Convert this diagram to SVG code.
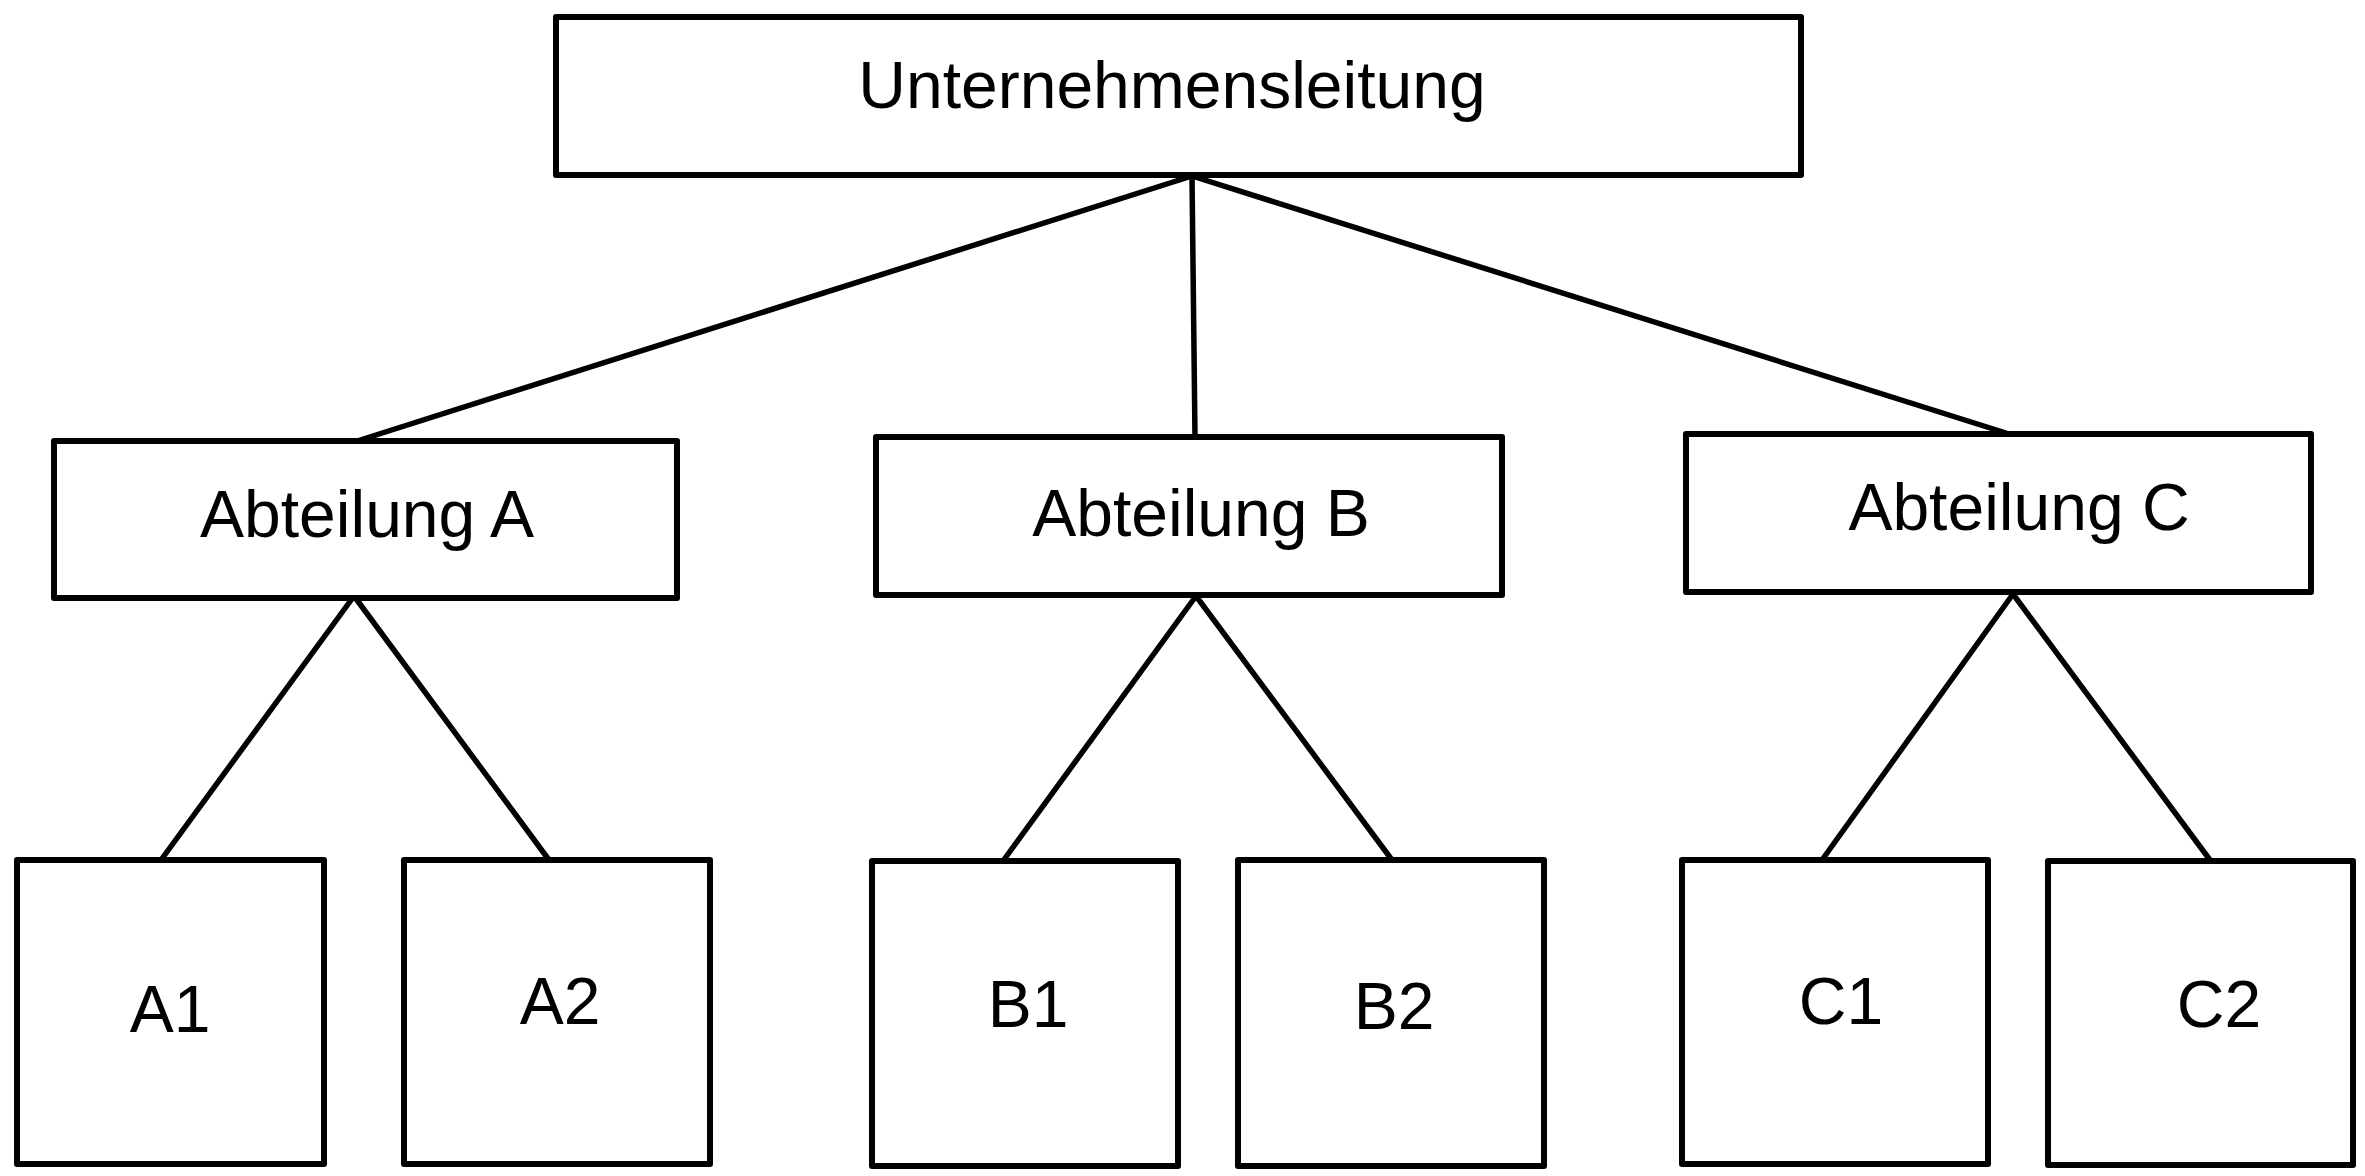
<svg xmlns="http://www.w3.org/2000/svg" width="2365" height="1176" viewBox="0 0 2365 1176">
<style>
.box{fill:#fff;stroke:#000;stroke-width:6;stroke-linejoin:round}
.lbl{font-family:"Liberation Sans",Arial,sans-serif;font-size:66px;fill:#000;text-anchor:middle}
.con line{stroke:#000;stroke-width:5.5;stroke-linecap:round}
</style>
<rect width="2365" height="1176" fill="#fff"/>
<g id="connectors" class="con">
<line x1="1192" y1="176" x2="354" y2="442"/>
<line x1="1192" y1="176" x2="1195" y2="437"/>
<line x1="1192" y1="176" x2="2006" y2="433"/>
<line x1="354" y1="596" x2="161" y2="860"/>
<line x1="354" y1="596" x2="549" y2="860"/>
<line x1="1196" y1="596" x2="1003" y2="861"/>
<line x1="1196" y1="596" x2="1392" y2="860"/>
<line x1="2013" y1="594" x2="1822" y2="860"/>
<line x1="2013" y1="594" x2="2210" y2="860"/>
</g>
<g id="unternehmensleitung">
<rect class="box" x="556" y="17" width="1245" height="158"/>
<text class="lbl" x="1172" y="108">Unternehmensleitung</text>
</g>
<g id="abteilung-a">
<rect class="box" x="54" y="441" width="623" height="157"/>
<text class="lbl" x="367" y="537">Abteilung A</text>
</g>
<g id="abteilung-b">
<rect class="box" x="876" y="437" width="626" height="158"/>
<text class="lbl" x="1201" y="536">Abteilung B</text>
</g>
<g id="abteilung-c">
<rect class="box" x="1686" y="434" width="625" height="158"/>
<text class="lbl" x="2019" y="530">Abteilung C</text>
</g>
<g id="a1">
<rect class="box" x="17" y="860" width="307" height="304"/>
<text class="lbl" x="170" y="1032">A1</text>
</g>
<g id="a2">
<rect class="box" x="404" y="860" width="306" height="304"/>
<text class="lbl" x="560" y="1024">A2</text>
</g>
<g id="b1">
<rect class="box" x="872" y="861" width="306" height="305"/>
<text class="lbl" x="1028" y="1027">B1</text>
</g>
<g id="b2">
<rect class="box" x="1238" y="860" width="306" height="306"/>
<text class="lbl" x="1394" y="1029">B2</text>
</g>
<g id="c1">
<rect class="box" x="1682" y="860" width="306" height="304"/>
<text class="lbl" x="1841" y="1024">C1</text>
</g>
<g id="c2">
<rect class="box" x="2048" y="861" width="305" height="304"/>
<text class="lbl" x="2219" y="1027">C2</text>
</g>
</svg>
